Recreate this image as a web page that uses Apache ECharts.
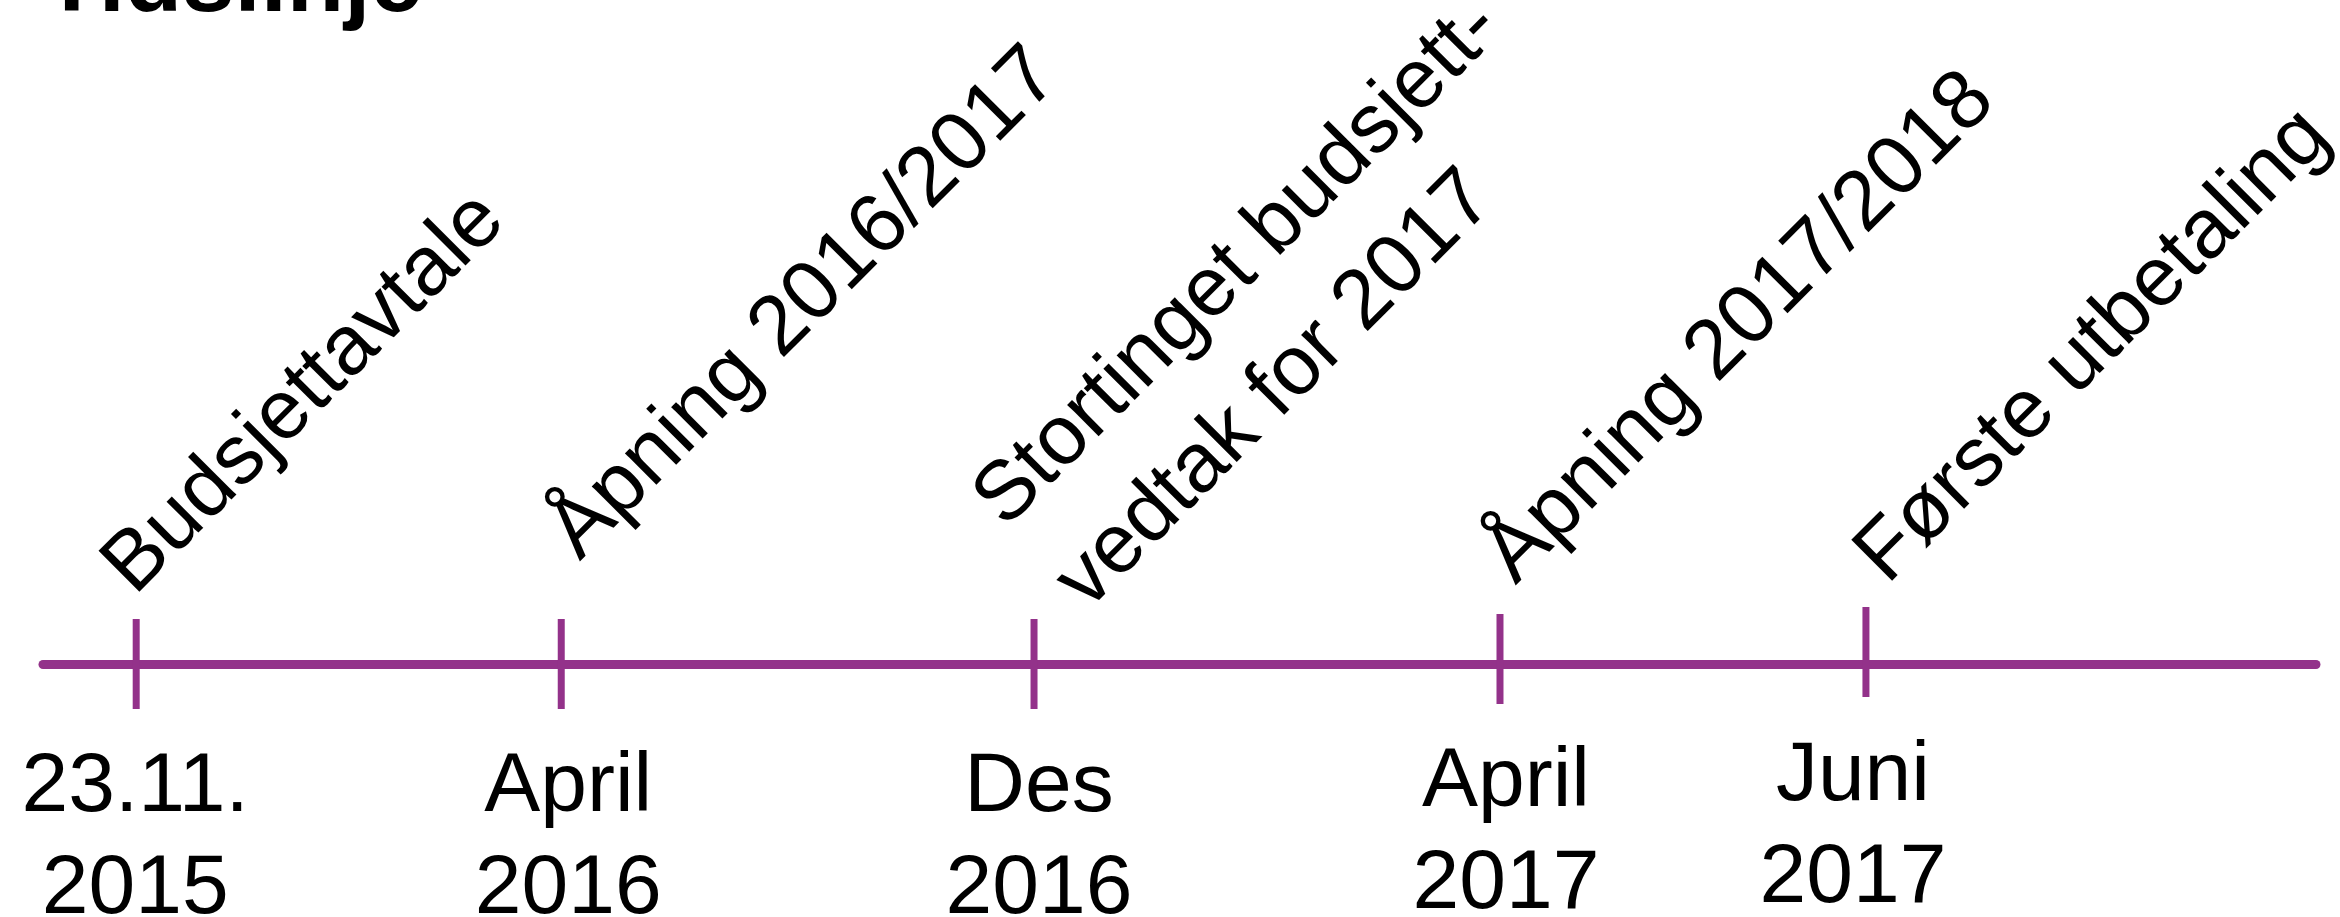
<!DOCTYPE html>
<html>
<head>
<meta charset="utf-8">
<title>Tidslinje</title>
<script src="https://cdn.jsdelivr.net/npm/echarts@6/dist/echarts.min.js"></script>
<style>
  html, body { margin: 0; padding: 0; background: #fff; }
  #chart { width: 2340px; height: 917px; }
</style>
</head>
<body>
<div id="chart"></div>
<script>
// hendelser langs tidslinja
var eventLabels = ['Budsjettavtale', 'Åpning 2016/2017', 'Stortinget budsjett-\nvedtak for 2017', 'Åpning 2017/2018', 'Første utbetaling'];
var dateLabels = ['23.11.\n2015', 'April\n2016', 'Des\n2016', 'April\n2017', 'Juni\n2017'];
var eventPos = [4.1, 22.8, 43.6, 64.1, 80.2];   // plass på linja (0-100)
var tickTop = [45, 45, 45, 50, 57];
var tickBottom = [-45, -45, -45, -40, -33];

// plassering av tekst i piksler, relativt til punktet på linja
var eventLabelOffset = [[-59, -125], [-39, -160], [-86, -192], [-42, -136], [-36, -136]];
var dateLabelOffset = [[-1, 73], [7, 73], [5, 73], [6, 68], [-13, 62]];

var purple = '#93328a';
var font = '"Liberation Sans", Arial, sans-serif';

var chart = echarts.init(document.getElementById('chart'));

var seriesData = eventPos.map(function (x, i) {
  return [x, tickTop[i], tickBottom[i]];
});

var option = {
  animation: false,
  backgroundColor: '#fff',
  title: {
    text: 'Tidslinje',
    left: 43,
    top: -65,
    padding: 0,
    textStyle: {
      fontFamily: font,
      fontSize: 94,
      fontWeight: 'bold',
      lineHeight: 100,
      color: '#000'
    }
  },
  grid: {
    left: 43,
    right: 24,
    top: 614,
    height: 100
  },
  xAxis: {
    type: 'value',
    min: 0,
    max: 100,
    axisLine: { show: true, onZero: true, lineStyle: { color: purple, width: 9 } },
    axisTick: { show: false },
    axisLabel: { show: false },
    splitLine: { show: false }
  },
  yAxis: {
    type: 'value',
    min: -50,
    max: 50,
    show: false
  },
  series: [{
    type: 'custom',
    data: seriesData,
    renderItem: function (params, api) {
      var i = params.dataIndex;
      var x = api.value(0);
      var top = api.coord([x, api.value(1)]);
      var bottom = api.coord([x, api.value(2)]);
      var base = api.coord([x, 0]);
      return {
        type: 'group',
        children: [
          {
            type: 'line',
            shape: { x1: top[0], y1: top[1], x2: bottom[0], y2: bottom[1] },
            style: { stroke: purple, lineWidth: 7 }
          },
          {
            type: 'text',
            x: base[0] + eventLabelOffset[i][0],
            y: base[1] + eventLabelOffset[i][1],
            rotation: Math.PI / 4,
            style: {
              text: eventLabels[i],
              fill: '#000',
              fontFamily: font,
              fontSize: 84,
              lineHeight: 116,
              align: 'left',
              verticalAlign: 'top'
            }
          },
          {
            type: 'text',
            x: base[0] + dateLabelOffset[i][0],
            y: base[1] + dateLabelOffset[i][1],
            style: {
              text: dateLabels[i],
              fill: '#000',
              fontFamily: font,
              fontSize: 84,
              lineHeight: 102,
              align: 'center',
              verticalAlign: 'top'
            }
          }
        ]
      };
    }
  }]
};

chart.setOption(option);
</script>
</body>
</html>
